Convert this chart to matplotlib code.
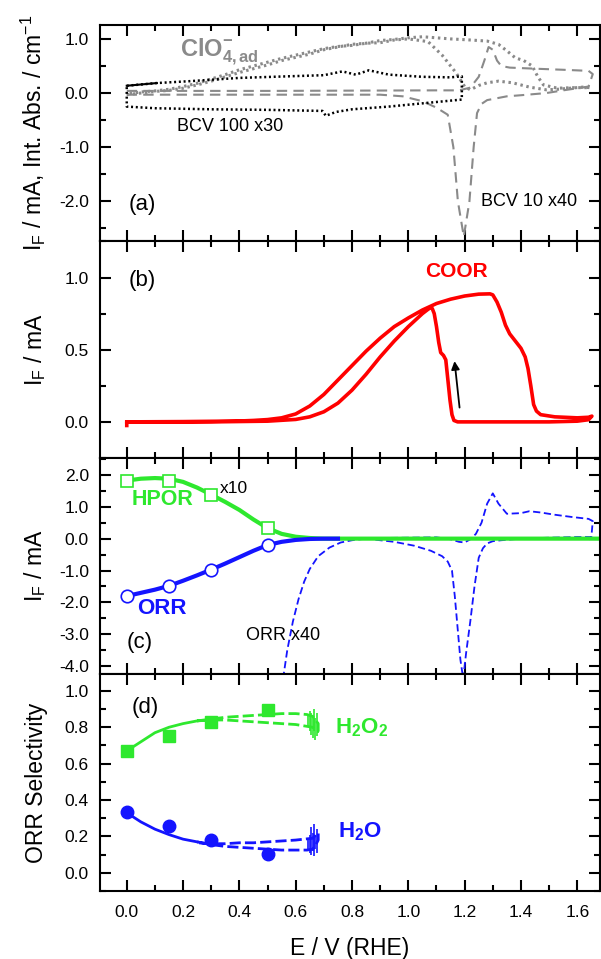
import numpy as np
import matplotlib
matplotlib.use("Agg")
import matplotlib.pyplot as plt
from matplotlib.ticker import MultipleLocator, FormatStrFormatter

plt.rcParams['font.family'] = ['Liberation Sans', 'DejaVu Sans']
plt.rcParams['mathtext.fontset'] = 'custom'
plt.rcParams['mathtext.rm'] = 'Liberation Sans'
plt.rcParams['mathtext.it'] = 'Liberation Sans:italic'
plt.rcParams['mathtext.bf'] = 'Liberation Sans:bold'
plt.rcParams['axes.unicode_minus'] = False

# ---- panel (a): BCV 100 x30 (black dotted loop)
bcv100_e = [0.0, 0.107, 0.225, 0.40, 0.578, 0.70, 0.766, 0.813, 0.86, 0.931, 1.05, 1.15, 1.19,
            1.19, 1.05, 0.93, 0.80, 0.742, 0.707, 0.695, 0.50, 0.30, 0.10, 0.0, 0.0]
bcv100_i = [0.135, 0.185, 0.22, 0.28, 0.31, 0.33, 0.40, 0.34, 0.42, 0.34, 0.30, 0.29, 0.31,
            -0.12, -0.19, -0.25, -0.30, -0.35, -0.42, -0.33, -0.31, -0.30, -0.28, -0.25, 0.135]
bcv100_solid_e = [0.0, 0.107]
bcv100_solid_i = [0.135, 0.185]

# BCV 10 x40 (gray dashed)
bcv10_e = [0.0, 0.5, 1.1, 1.18, 1.22, 1.25, 1.27, 1.285, 1.30, 1.315, 1.33, 1.36, 1.45, 1.55, 1.64,
           1.655, 1.64, 1.55, 1.49, 1.40, 1.35, 1.31, 1.28, 1.26, 1.244, 1.232, 1.217, 1.197,
           1.176, 1.16, 1.14, 1.10, 1.05, 0.98, 0.90, 0.5, 0.0]
bcv10_i = [0.04, 0.04, 0.05, 0.05, 0.10, 0.30, 0.60, 0.85, 0.80, 0.60, 0.50, 0.47, 0.45, 0.43, 0.41,
           0.35, 0.12, 0.05, 0.0, -0.04, -0.06, -0.10, -0.13, -0.20, -0.37, -1.0, -2.0, -2.65,
           -2.0, -1.0, -0.40, -0.27, -0.15, -0.06, -0.03, -0.03, -0.03]

# ClO4- integrated absorbance (gray dotted)
clo4_e = [0.0, 0.05, 0.1, 0.15, 0.2, 0.25, 0.3, 0.35, 0.4, 0.45, 0.5, 0.55, 0.6, 0.65, 0.7, 0.75,
          0.8, 0.85, 0.9, 0.95, 1.0, 1.05, 1.15, 1.22, 1.28, 1.32, 1.35, 1.38, 1.41, 1.44, 1.46,
          1.48, 1.53, 1.59, 1.645, 1.62, 1.53, 1.49, 1.43, 1.37, 1.32, 1.28, 1.25, 1.22, 1.20,
          1.17, 1.12, 1.07, 1.0, 0.95, 0.9, 0.85, 0.8, 0.75, 0.7, 0.65, 0.6, 0.55, 0.5, 0.45,
          0.4, 0.35, 0.3, 0.25, 0.2, 0.15, 0.1, 0.05, 0.0]
clo4_a = [-0.03, 0.0, 0.03, 0.05, 0.09, 0.15, 0.22, 0.30, 0.38, 0.45, 0.52, 0.60, 0.66, 0.72, 0.80,
          0.85, 0.90, 0.92, 0.97, 0.99, 1.02, 1.04, 1.00, 0.98, 0.96, 0.90, 0.78, 0.65, 0.60, 0.50,
          0.30, 0.15, 0.09, 0.10, 0.10, 0.11, 0.07, 0.06, 0.11, 0.19, 0.22, 0.19, 0.14, 0.06, 0.12,
          0.37, 0.70, 0.95, 1.00, 0.98, 0.93, 0.92, 0.88, 0.86, 0.82, 0.76, 0.70, 0.64, 0.57, 0.50,
          0.43, 0.34, 0.26, 0.18, 0.12, 0.07, 0.04, 0.02, -0.02]

# ---- panel (b): COOR (forward along the outer curve, back along the inner one)
coor_e = [0.0, 0.0, 0.2, 0.4, 0.45, 0.5, 0.55, 0.6, 0.65, 0.7, 0.75, 0.8, 0.85, 0.9, 0.95, 1.0,
          1.05, 1.1, 1.15, 1.2, 1.25, 1.29, 1.30, 1.315, 1.33, 1.345, 1.36, 1.38, 1.40, 1.415,
          1.425, 1.435, 1.445, 1.455, 1.47, 1.52, 1.6, 1.64, 1.652,
          1.64, 1.6, 1.5, 1.3, 1.175, 1.162, 1.155, 1.148, 1.14, 1.133, 1.125, 1.115, 1.108,
          1.1, 1.092, 1.085, 1.078, 1.07, 1.05, 1.0, 0.95, 0.9, 0.85, 0.8, 0.75, 0.7, 0.65,
          0.6, 0.5, 0.3, 0.0]
coor_i = [-0.025, 0.0, 0.002, 0.006, 0.01, 0.016, 0.028, 0.055, 0.11, 0.19, 0.29, 0.39, 0.49, 0.58,
          0.66, 0.72, 0.775, 0.82, 0.85, 0.872, 0.885, 0.887, 0.88, 0.83, 0.76, 0.67, 0.61, 0.56,
          0.51, 0.45, 0.37, 0.25, 0.12, 0.075, 0.05, 0.035, 0.028, 0.032, 0.04,
          0.015, 0.005, 0.0, 0.0, 0.0, 0.01, 0.05, 0.15, 0.30, 0.43, 0.46, 0.48, 0.55,
          0.66, 0.75, 0.785, 0.79, 0.78, 0.75, 0.66, 0.56, 0.45, 0.33, 0.22, 0.13, 0.07, 0.035,
          0.017, 0.005, 0.0, 0.0]

# ---- panel (c): HPOR x10, ORR and ORR x40
hpor_e = [0.0, 0.05, 0.1, 0.15, 0.2, 0.25, 0.3, 0.35, 0.4, 0.45, 0.5, 0.55, 0.6, 0.65, 0.7, 0.8, 1.0, 1.4, 1.68]
hpor_i = [1.82, 1.88, 1.9, 1.88, 1.78, 1.6, 1.38, 1.15, 0.9, 0.6, 0.33, 0.15, 0.06, 0.02, 0.0, 0.0, 0.0, 0.0, 0.0]
hpor_pts_e = [0.0, 0.15, 0.3, 0.5]
hpor_pts_i = [1.82, 1.8, 1.38, 0.33]

orr_e = [0.0, 0.05, 0.1, 0.15, 0.2, 0.25, 0.3, 0.35, 0.4, 0.45, 0.5, 0.55, 0.6, 0.65, 0.7, 0.75]
orr_i = [-1.8, -1.7, -1.6, -1.48, -1.32, -1.15, -0.97, -0.78, -0.58, -0.38, -0.2, -0.1, -0.04, -0.01, 0.0, 0.0]
orr_pts_e = [0.0, 0.15, 0.3, 0.5]
orr_pts_i = [-1.8, -1.48, -0.97, -0.2]

orr40_e = [0.555, 0.57, 0.59, 0.61, 0.63, 0.65, 0.68, 0.72, 0.76, 0.8, 0.85, 0.9, 1.0, 1.1, 1.15,
           1.18, 1.2, 1.22, 1.24, 1.26, 1.28, 1.30, 1.32, 1.35, 1.4, 1.43, 1.47, 1.52, 1.58, 1.64,
           1.655, 1.65, 1.6, 1.5, 1.4, 1.33, 1.3, 1.28, 1.265, 1.25, 1.235, 1.22, 1.205, 1.195,
           1.185, 1.175, 1.165, 1.155, 1.14, 1.12, 1.08, 1.02, 0.95, 0.88]
orr40_i = [-4.4, -3.5, -2.6, -1.9, -1.35, -0.95, -0.55, -0.28, -0.12, -0.05, 0.0, 0.02, 0.03, 0.04, -0.02,
           -0.10, -0.12, -0.02, 0.15, 0.5, 1.1, 1.42, 1.1, 0.78, 0.80, 0.86, 0.82, 0.75, 0.68, 0.62,
           0.55, 0.05, 0.05, 0.03, 0.0, -0.05, -0.08, -0.15, -0.3, -0.6, -1.5, -2.6, -3.6, -4.4,
           -3.8, -2.8, -1.8, -1.0, -0.72, -0.55, -0.38, -0.22, -0.1, -0.03]

# ---- panel (d): selectivity
h2o2_solid_e = [0.0, 0.05, 0.1, 0.15, 0.2, 0.25]
h2o2_solid_s = [0.67, 0.72, 0.77, 0.80, 0.82, 0.835]
h2o2_dash_e = [0.25, 0.3, 0.35, 0.4, 0.45, 0.5, 0.55, 0.6, 0.64, 0.66, 0.67, 0.68,
               0.68, 0.66, 0.6, 0.55, 0.5, 0.45, 0.4, 0.35, 0.3, 0.25]
h2o2_dash_s = [0.835, 0.845, 0.855, 0.86, 0.865, 0.87, 0.875, 0.875, 0.87, 0.86, 0.84, 0.82,
               0.78, 0.80, 0.815, 0.82, 0.825, 0.83, 0.835, 0.84, 0.84, 0.835]
h2o2_noise_e = [0.645, 0.65, 0.655, 0.66, 0.665, 0.67, 0.675, 0.68]
h2o2_noise_lo = [0.80, 0.78, 0.76, 0.74, 0.78, 0.73, 0.75, 0.77]
h2o2_noise_hi = [0.87, 0.89, 0.88, 0.86, 0.90, 0.85, 0.88, 0.83]
h2o2_pts_e = [0.0, 0.15, 0.3, 0.5]
h2o2_pts_s = [0.67, 0.75, 0.83, 0.895]

h2o_solid_e = [0.0, 0.05, 0.1, 0.15, 0.2, 0.25]
h2o_solid_s = [0.33, 0.28, 0.24, 0.21, 0.185, 0.17]
h2o_dash_e = [0.25, 0.3, 0.35, 0.4, 0.45, 0.5, 0.55, 0.6, 0.64, 0.66, 0.67, 0.68,
              0.68, 0.66, 0.6, 0.55, 0.5, 0.45, 0.4, 0.35, 0.3, 0.25]
h2o_dash_s = [0.17, 0.155, 0.145, 0.14, 0.135, 0.13, 0.125, 0.125, 0.125, 0.13, 0.15, 0.18,
              0.22, 0.19, 0.18, 0.175, 0.17, 0.165, 0.165, 0.16, 0.16, 0.165]
h2o_noise_e = [0.645, 0.65, 0.655, 0.66, 0.665, 0.67, 0.675]
h2o_noise_lo = [0.12, 0.11, 0.10, 0.12, 0.09, 0.13, 0.11]
h2o_noise_hi = [0.19, 0.21, 0.25, 0.22, 0.27, 0.21, 0.24]
h2o_pts_e = [0.0, 0.15, 0.3, 0.5]
h2o_pts_s = [0.335, 0.255, 0.18, 0.105]

GRAY = '#8a8a8a'
GREEN = '#2ee82e'
BLUE = '#1414ff'
RED = '#ff0000'

fig, axes = plt.subplots(4, 1, sharex=True, figsize=(6.01, 9.59), dpi=100)
fig.subplots_adjust(left=0.1664, right=0.998, top=0.974, bottom=0.0709, hspace=0)
ax1, ax2, ax3, ax4 = axes

# (a)
ax1.plot(bcv10_e, bcv10_i, color=GRAY, lw=1.5, ls=(0, (5, 3)))
ax1.plot(clo4_e, clo4_a, color=GRAY, lw=2.2, ls=(0, (0.8, 1.2)))
ax1.plot(bcv100_e, bcv100_i, color='black', lw=1.8, ls=(0, (0.8, 1.1)))
ax1.plot(bcv100_solid_e, bcv100_solid_i, color='black', lw=1.5)
ax1.set_ylim(-2.74, 1.258)
ax1.yaxis.set_major_locator(MultipleLocator(1.0))
ax1.yaxis.set_minor_locator(MultipleLocator(0.5))
ax1.text(0.005, -2.05, '(a)', fontsize=16, ha='left', va='center')
ax1.text(0.18, -0.62, 'BCV 100 x30', fontsize=13, ha='left', va='center')
ax1.text(1.258, -2.0, 'BCV 10 x40', fontsize=13, ha='left', va='center')
ax1.text(0.19, 0.68, r'$\mathbf{ClO}_{\mathbf{4,ad}}^{\mathbf{-}}$', fontsize=17,
         color=GRAY, ha='left', va='baseline')
ax1.set_ylabel(r'I$_\mathrm{F}$ / mA, Int. Abs. / cm$^{-1}$', fontsize=16.5)

# (b)
ax2.plot(coor_e, coor_i, color=RED, lw=2.6, solid_joinstyle='round')
ax2.set_ylim(-0.25, 1.25)
ax2.yaxis.set_major_locator(MultipleLocator(0.5))
ax2.yaxis.set_minor_locator(MultipleLocator(0.25))
ax2.text(0.005, 0.98, '(b)', fontsize=16, ha='left', va='center')
ax2.text(1.17, 1.04, 'COOR', fontsize=15, fontweight='bold', color=RED, ha='center', va='center')
ax2.annotate('', xy=(1.163, 0.44), xytext=(1.183, 0.08),
             arrowprops=dict(arrowstyle='-|>', color='black', lw=1.3, mutation_scale=12))
ax2.set_ylabel(r'I$_\mathrm{F}$ / mA', fontsize=16.5)

# (c)
ax3.plot(orr40_e, orr40_i, color=BLUE, lw=1.3, ls=(0, (4, 2)))
ax3.plot(hpor_e, hpor_i, color=GREEN, lw=3)
ax3.plot(hpor_pts_e, hpor_pts_i, ls='none', marker='s', ms=9, mfc='white', mec=GREEN, mew=1.2)
ax3.plot(orr_e, orr_i, color=BLUE, lw=3)
ax3.plot(orr_pts_e, orr_pts_i, ls='none', marker='o', ms=9, mfc='white', mec=BLUE, mew=1.2)
ax3.set_ylim(-4.26, 2.53)
ax3.yaxis.set_major_locator(MultipleLocator(1.0))
ax3.yaxis.set_minor_locator(MultipleLocator(0.5))
ax3.text(0.0, -3.25, '(c)', fontsize=16, ha='left', va='center')
ax3.text(0.018, 1.22, 'HPOR', fontsize=15.5, fontweight='bold', color=GREEN, ha='left', va='center')
ax3.text(0.33, 1.58, 'x10', fontsize=12.5, ha='left', va='center')
ax3.text(0.036, -2.19, 'ORR', fontsize=16, fontweight='bold', color=BLUE, ha='left', va='center')
ax3.text(0.425, -3.04, 'ORR x40', fontsize=13, ha='left', va='center')
ax3.set_ylabel(r'I$_\mathrm{F}$ / mA', fontsize=16.5)

# (d)
ax4.plot(h2o2_solid_e, h2o2_solid_s, color=GREEN, lw=2)
ax4.plot(h2o2_dash_e, h2o2_dash_s, color=GREEN, lw=2, ls=(0, (4, 1.5)))
ax4.vlines(h2o2_noise_e, h2o2_noise_lo, h2o2_noise_hi, color=GREEN, lw=1.2)
ax4.plot(h2o2_pts_e, h2o2_pts_s, ls='none', marker='s', ms=9, color=GREEN)
ax4.plot(h2o_solid_e, h2o_solid_s, color=BLUE, lw=2)
ax4.plot(h2o_dash_e, h2o_dash_s, color=BLUE, lw=2, ls=(0, (4, 1.5)))
ax4.vlines(h2o_noise_e, h2o_noise_lo, h2o_noise_hi, color=BLUE, lw=1.2)
ax4.plot(h2o_pts_e, h2o_pts_s, ls='none', marker='o', ms=9, color=BLUE)
ax4.set_ylim(-0.10, 1.09)
ax4.yaxis.set_major_locator(MultipleLocator(0.2))
ax4.yaxis.set_minor_locator(MultipleLocator(0.1))
ax4.text(0.016, 0.91, '(d)', fontsize=16, ha='left', va='center')
ax4.text(0.74, 0.80, r'$\mathbf{H}_\mathbf{2}\mathbf{O}_\mathbf{2}$', fontsize=16,
         color=GREEN, ha='left', va='center')
ax4.text(0.75, 0.225, r'$\mathbf{H}_\mathbf{2}\mathbf{O}$', fontsize=16,
         color=BLUE, ha='left', va='center')
ax4.set_ylabel('ORR Selectivity', fontsize=16.5)
ax4.set_xlabel('E / V (RHE)', fontsize=16.5, labelpad=12)

ax4.set_xlim(-0.095, 1.68)
ax4.xaxis.set_major_locator(MultipleLocator(0.2))
ax4.xaxis.set_minor_locator(MultipleLocator(0.1))
ax4.xaxis.set_major_formatter(FormatStrFormatter('%.1f'))

for ax in axes:
    for sp in ax.spines.values():
        sp.set_linewidth(1.5)
    ax.tick_params(which='both', direction='in', top=True, right=True, width=1.5)
    ax.tick_params(which='major', length=8)
    ax.tick_params(which='minor', length=4)
    ax.tick_params(axis='y', labelsize=12.5, pad=8)
    ax.tick_params(axis='x', labelsize=12.5, pad=10)
    ax.yaxis.set_major_formatter(FormatStrFormatter('%.1f'))
    ax.yaxis.set_label_coords(-0.105, 0.5)

fig.savefig('out.png', dpi=100)
